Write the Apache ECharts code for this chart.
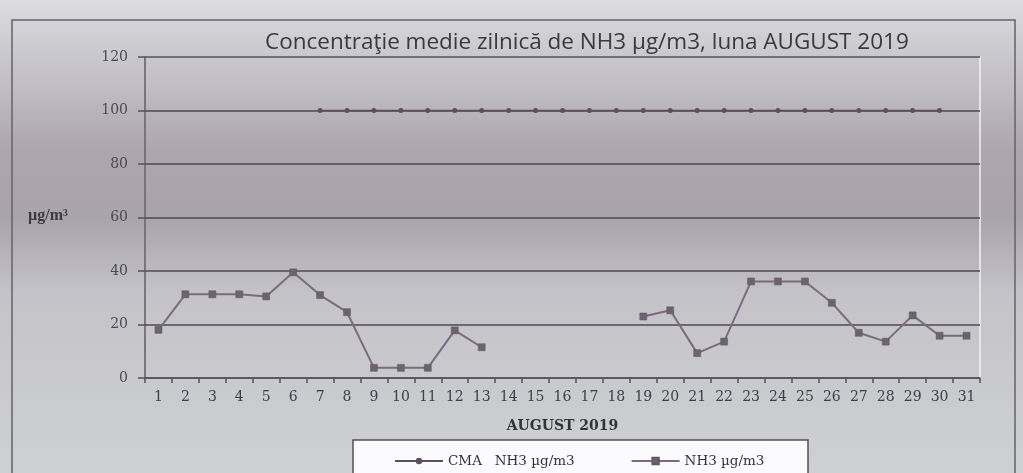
<!DOCTYPE html>
<html>
<head>
<meta charset="utf-8">
<script src="https://cdn.jsdelivr.net/npm/echarts@6/dist/echarts.min.js"></script>
<style>
html,body{margin:0;padding:0;}
#c{width:1023px;height:473px;}
</style>
</head>
<body>
<div id="c"></div>
<script>
var days = ['1','2','3','4','5','6','7','8','9','10','11','12','13','14','15','16','17','18','19','20','21','22','23','24','25','26','27','28','29','30','31'];
var cmaValues = [null,null,null,null,null,null,100,100,100,100,100,100,100,100,100,100,100,100,100,100,100,100,100,100,100,100,100,100,100,100,null];
var nh3Values = [18,31.3,31.3,31.3,30.5,39.5,31,24.6,3.8,3.8,3.8,17.8,11.5,null,null,null,null,null,23,25.3,9.3,13.6,36.1,36.1,36.1,28.1,16.9,13.6,23.4,15.8,15.8];
var yTicks = {min:0, max:120, interval:20};
var titleText = 'Concentraţie medie zilnică de NH3 µg/m3, luna AUGUST 2019';
var xName = 'AUGUST 2019';
var yName = 'µg/m³';
var cmaName = 'CMA   NH3 µg/m3';
var nh3Name = 'NH3 µg/m3';

var chart = echarts.init(document.getElementById('c'), null, {renderer:'canvas'});
var serif = '"Liberation Serif","DejaVu Serif",serif';
var wserif = '"DejaVu Serif","Liberation Serif",serif';
chart.setOption({
  backgroundColor: {
    type:'linear', x:0, y:0, x2:0, y2:1,
    colorStops:[
      {offset:0, color:'#dcdce0'},
      {offset:0.12, color:'#c9c8cd'},
      {offset:0.32, color:'#ada5af'},
      {offset:0.46, color:'#a9a3ac'},
      {offset:0.62, color:'#c3c3c8'},
      {offset:1, color:'#cfd0d4'}
    ]
  },
  animation:false,
  title:{
    text:titleText, left:260, top:26,
    textStyle:{fontFamily:'"Open Sans",Lato,sans-serif', fontSize:22.5, fontWeight:'normal', color:'#3a3a3e'}
  },
  grid:{left:145, right:43, top:57, bottom:95, show:true, borderColor:'#f2f2f4', borderWidth:1.5, backgroundColor:'transparent'},
  legend:{
    left:389, top:449, itemGap:56, itemWidth:48, itemHeight:8,
    textStyle:{fontFamily:wserif, fontSize:13.5, color:'#333'},
    data:[cmaName, nh3Name]
  },
  xAxis:{
    type:'category', data:days, boundaryGap:true,
    name:xName, nameLocation:'middle', nameGap:41,
    nameTextStyle:{fontFamily:wserif, fontSize:14, fontWeight:'bold', color:'#333'},
    axisLine:{lineStyle:{color:'#55505a', width:1.5}},
    axisTick:{show:true, alignWithLabel:false, length:5, lineStyle:{color:'#55505a', width:1.5}},
    axisLabel:{fontFamily:wserif, fontSize:14, color:'#3e3e44', margin:12, interval:0},
    splitLine:{show:false}
  },
  yAxis:{
    type:'value', min:yTicks.min, max:yTicks.max, interval:yTicks.interval,
    axisLine:{show:true, lineStyle:{color:'#55505a', width:1.5}},
    axisTick:{show:true, inside:false, length:7, lineStyle:{color:'#55505a', width:1.5}},
    axisLabel:{fontFamily:wserif, fontSize:14, color:'#4a4a50', margin:17},
    splitLine:{show:true, lineStyle:{color:'#4e4850', width:1.5}}
  },
  graphic:[
    {type:'rect', shape:{x:12, y:20, width:1003, height:470}, style:{fill:'none', stroke:'#66626a', lineWidth:1.5}, silent:true, z:-1},
    {type:'rect', shape:{x:353, y:440, width:455, height:40}, style:{fill:'#fbfbfd', stroke:'#55505a', lineWidth:1.5}, silent:true, z:0},
    {type:'text', left:28, top:208, style:{text:yName, font:'bold 16px '+serif, fill:'#3a3a40'}, z:10}
  ],
  series:[
    {
      name:cmaName, type:'line', data:cmaValues, connectNulls:false,
      symbol:'circle', symbolSize:5,
      lineStyle:{color:'#5a5060', width:1.5},
      itemStyle:{color:'#5a5060'},
      z:5
    },
    {
      name:nh3Name, type:'line', data:nh3Values, connectNulls:false,
      symbol:'rect', symbolSize:7,
      lineStyle:{color:'#7c6a7e', width:2},
      itemStyle:{color:'#6b6470', borderColor:'#5e5864', borderWidth:0.5},
      z:6
    }
  ]
});
</script>
</body>
</html>
